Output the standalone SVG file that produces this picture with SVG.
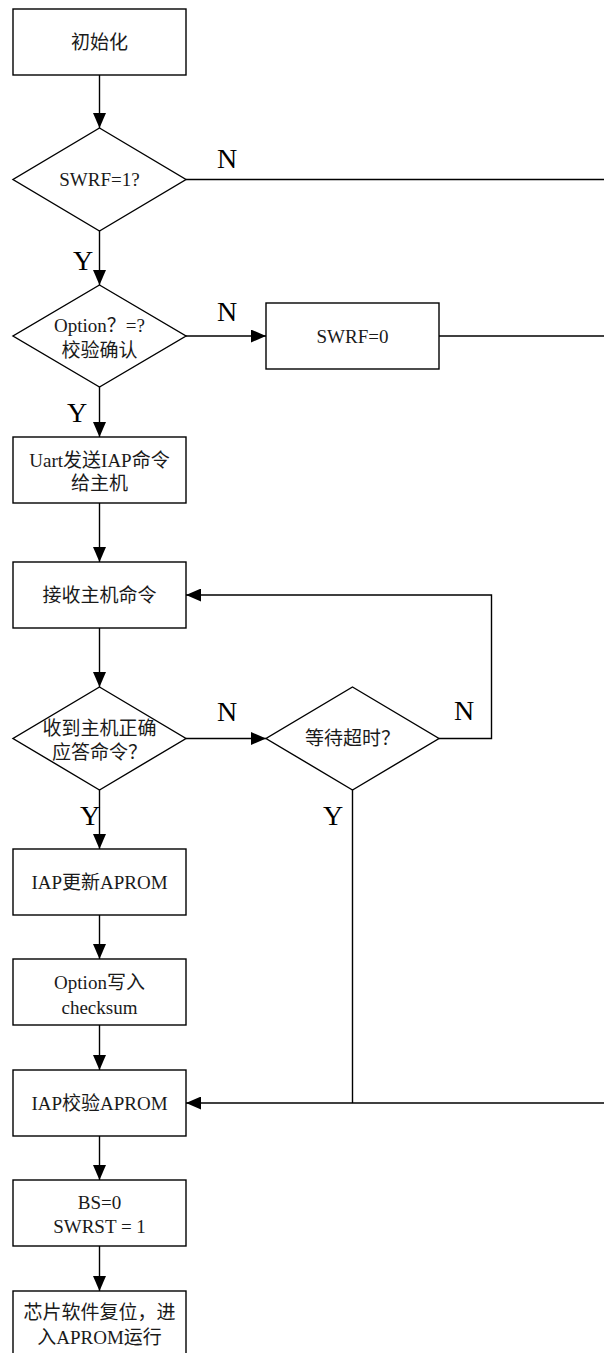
<svg xmlns="http://www.w3.org/2000/svg" width="604" height="1353" viewBox="0 0 604 1353">
<style>
.s{fill:#fff;stroke:#000;stroke-width:1.4}
.c{fill:none;stroke:#000;stroke-width:1.4}
.t{font-family:"Liberation Serif","Noto Sans CJK SC",serif;font-size:19px;fill:#1a1a1a;text-anchor:middle}
.l{font-family:"Liberation Serif",serif;font-size:28px;fill:#000;text-anchor:middle}
</style>
<defs>
<marker id="ah" viewBox="0 0 15 13" markerWidth="15" markerHeight="13" refX="15" refY="6.5" orient="auto" markerUnits="userSpaceOnUse">
<path d="M0,0 L15,6.5 L0,13 z" fill="#000"/>
</marker>
</defs>
<rect width="604" height="1353" fill="#fff"/>
<g id="connectors">
<line class="c" x1="99.5" y1="75" x2="99.5" y2="128" marker-end="url(#ah)"/>
<line class="c" x1="186" y1="179.5" x2="604" y2="179.5"/>
<line class="c" x1="99.5" y1="231" x2="99.5" y2="285" marker-end="url(#ah)"/>
<line class="c" x1="186" y1="336" x2="266" y2="336" marker-end="url(#ah)"/>
<line class="c" x1="439" y1="336" x2="604" y2="336"/>
<line class="c" x1="99.5" y1="387" x2="99.5" y2="437" marker-end="url(#ah)"/>
<line class="c" x1="99.5" y1="503" x2="99.5" y2="562" marker-end="url(#ah)"/>
<line class="c" x1="99.5" y1="628" x2="99.5" y2="687" marker-end="url(#ah)"/>
<line class="c" x1="186" y1="738.5" x2="266" y2="738.5" marker-end="url(#ah)"/>
<polyline class="c" points="439,738.5 491.5,738.5 491.5,595 186,595" marker-end="url(#ah)"/>
<line class="c" x1="352.5" y1="790" x2="352.5" y2="1103"/>
<line class="c" x1="604" y1="1103" x2="186" y2="1103" marker-end="url(#ah)"/>
<line class="c" x1="99.5" y1="790" x2="99.5" y2="849" marker-end="url(#ah)"/>
<line class="c" x1="99.5" y1="915" x2="99.5" y2="959" marker-end="url(#ah)"/>
<line class="c" x1="99.5" y1="1025" x2="99.5" y2="1070" marker-end="url(#ah)"/>
<line class="c" x1="99.5" y1="1136" x2="99.5" y2="1180" marker-end="url(#ah)"/>
<line class="c" x1="99.5" y1="1246" x2="99.5" y2="1291" marker-end="url(#ah)"/>
<text class="l" x="227" y="168">N</text>
<text class="l" x="83" y="270">Y</text>
<text class="l" x="227" y="321">N</text>
<text class="l" x="77" y="422">Y</text>
<text class="l" x="227" y="721">N</text>
<text class="l" x="464" y="720">N</text>
<text class="l" x="90" y="825">Y</text>
<text class="l" x="333" y="825">Y</text>
</g>
<g id="n1"><rect class="s" x="13" y="9" width="173" height="66"/><text class="t" x="99.5" y="48.5">初始化</text></g>
<g id="d1"><polygon class="s" points="99.5,128 186,179.5 99.5,231 13,179.5"/><text class="t" x="99.5" y="186">SWRF=1?</text></g>
<g id="d2"><polygon class="s" points="99.5,285 186,336 99.5,387 13,336"/><text class="t" x="99.5" y="331.5">Option？=?</text><text class="t" x="99.5" y="356.5">校验确认</text></g>
<g id="n2"><rect class="s" x="266" y="303" width="173" height="66"/><text class="t" x="352.5" y="342.5">SWRF=0</text></g>
<g id="n3"><rect class="s" x="13" y="437" width="173" height="66"/><text class="t" x="99.5" y="466.5">Uart发送IAP命令</text><text class="t" x="99.5" y="489.5">给主机</text></g>
<g id="n4"><rect class="s" x="13" y="562" width="173" height="66"/><text class="t" x="99.5" y="601.5">接收主机命令</text></g>
<g id="d3"><polygon class="s" points="99.5,687 186,738.5 99.5,790 13,738.5"/><text class="t" x="99.5" y="734.5">收到主机正确</text><text class="t" x="99.5" y="758.5">应答命令？</text></g>
<g id="d4"><polygon class="s" points="352.5,687 439,738.5 352.5,790 266,738.5"/><text class="t" x="352.5" y="745">等待超时？</text></g>
<g id="n5"><rect class="s" x="13" y="849" width="173" height="66"/><text class="t" x="99.5" y="888.5">IAP更新APROM</text></g>
<g id="n6"><rect class="s" x="13" y="959" width="173" height="66"/><text class="t" x="99.5" y="988.5">Option写入</text><text class="t" x="99.5" y="1013.5">checksum</text></g>
<g id="n7"><rect class="s" x="13" y="1070" width="173" height="66"/><text class="t" x="99.5" y="1109.5">IAP校验APROM</text></g>
<g id="n8"><rect class="s" x="13" y="1180" width="173" height="66"/><text class="t" x="99.5" y="1208.5">BS=0</text><text class="t" x="99.5" y="1232.5">SWRST = 1</text></g>
<g id="n9"><rect class="s" x="13" y="1291" width="173" height="66"/><text class="t" x="99.5" y="1318.5">芯片软件复位，进</text><text class="t" x="99.5" y="1343.5">入APROM运行</text></g>
</svg>
